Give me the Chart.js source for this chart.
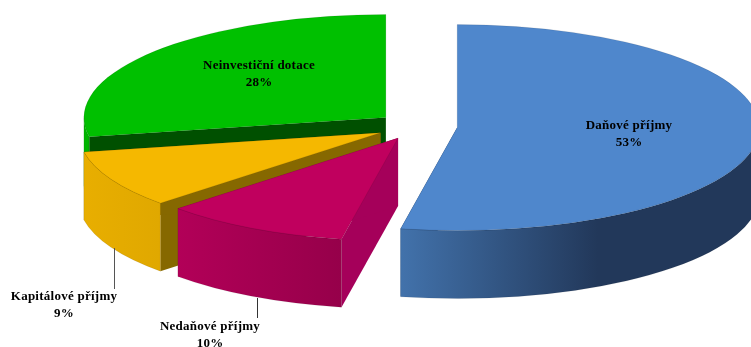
<!DOCTYPE html>
<html lang="cs">
<head>
<meta charset="utf-8">
<title>Struktura příjmů</title>
<style>
  html, body { margin: 0; padding: 0; background: #fff; }
  #wrap { width: 751px; height: 347px; }
  canvas { display: block; }
</style>
<script src="https://cdn.jsdelivr.net/npm/chart.js@4/dist/chart.umd.js"></script>
</head>
<body>
<div id="wrap"><canvas id="chart" width="751" height="347"></canvas></div>
<script>
// Revenue shares, in percent
const categories = ['Daňové příjmy', 'Nedaňové příjmy', 'Kapitálové příjmy', 'Neinvestiční dotace'];
const shares = [53, 10, 9, 28];
const explode = [73, 71, 74, 73];

// Slice colours: top face, inner cut face, outer rim gradient (left to right)
const topColors = ['#4f87cc', '#c0005e', '#f5b800', '#00c000'];
const cutColors = ['#2f5586', '#a5005a', '#866800', '#005000'];
const rimLeft = ['#4272ab', '#b20058', '#e8ae00', '#00b400'];
const rimMid = ['#22385a', '#96004a', '#e0a800', '#00b400'];

// Projection of the flat pie onto a tilted disc
const tilt = { rx: 302, ry: 103, depth: 68, cx: 417, cy: 126.3 };

// Captions and their leader lines
const captions = [
  { lines: ['Daňové příjmy', '53%'], x: 629, y: 126 },
  { lines: ['Nedaňové příjmy', '10%'], x: 210, y: 327 },
  { lines: ['Kapitálové příjmy', '9%'], x: 64, y: 297 },
  { lines: ['Neinvestiční dotace', '28%'], x: 259, y: 66 }
];
const leaders = [
  { x: 114.5, y0: 248, y1: 289, color: '#555' },
  { x: 257.5, y0: 298, y1: 318, color: '#333' }
];

const tiltedPie = {
  id: 'tiltedPie',
  // The slices are painted here in 3D, back to front, from the arc geometry the chart computed
  beforeDatasetDraw(chart, args) {
    const ctx = chart.ctx;
    const arcs = args.meta.data;
    const order = [3, 2, 1, 0];
    for (const i of order) {
      const arc = arcs[i];
      const p = arc.getProps(['startAngle', 'endAngle', 'outerRadius']);
      const sx = tilt.rx / p.outerRadius;
      const sy = tilt.ry / p.outerRadius;
      const mid = (p.startAngle + p.endAngle) / 2;
      const shift = (arc.options.offset || 0) / 4;
      const ax = tilt.cx + Math.cos(mid) * shift * sx;
      const ay = tilt.cy + Math.sin(mid) * shift * sy;
      const edge = a => [ax + Math.cos(a) * tilt.rx, ay + Math.sin(a) * tilt.ry];
      const d = tilt.depth;
      ctx.save();
      ctx.lineJoin = 'round';

      // Cut faces running from the apex to the rim
      for (const a of [p.startAngle, p.endAngle]) {
        const [ex, ey] = edge(a);
        ctx.beginPath();
        ctx.moveTo(ax, ay);
        ctx.lineTo(ex, ey);
        ctx.lineTo(ex, ey + d);
        ctx.lineTo(ax, ay + d);
        ctx.closePath();
        ctx.fillStyle = cutColors[i];
        ctx.fill();
      }

      // Outer rim, only the part of the disc edge that faces the viewer
      const a0 = Math.max(p.startAngle, 0);
      const a1 = Math.min(p.endAngle, Math.PI);
      if (a1 > a0) {
        const xs = [];
        for (let t = 0; t <= 40; t++) xs.push(edge(a0 + (a1 - a0) * t / 40)[0]);
        const minX = Math.min(...xs), maxX = Math.max(...xs);
        const g = ctx.createLinearGradient(minX, 0, maxX, 0);
        g.addColorStop(0, rimLeft[i]);
        g.addColorStop(i === 0 ? 0.55 : 1, rimMid[i]);
        if (i === 0) g.addColorStop(1, rimMid[i]);
        ctx.beginPath();
        ctx.ellipse(ax, ay, tilt.rx, tilt.ry, 0, a0, a1);
        ctx.ellipse(ax, ay + d, tilt.rx, tilt.ry, 0, a1, a0, true);
        ctx.closePath();
        ctx.fillStyle = g;
        ctx.fill();
        ctx.strokeStyle = 'rgba(0,0,0,0.15)';
        ctx.lineWidth = 0.5;
        ctx.stroke();
      }

      // Top face
      ctx.beginPath();
      ctx.moveTo(ax, ay);
      ctx.ellipse(ax, ay, tilt.rx, tilt.ry, 0, p.startAngle, p.endAngle);
      ctx.closePath();
      ctx.fillStyle = arc.options.backgroundColor;
      ctx.fill();
      ctx.strokeStyle = 'rgba(0,0,0,0.18)';
      ctx.lineWidth = 0.5;
      ctx.stroke();
      ctx.restore();
    }
    return false;
  },
  afterDraw(chart) {
    const ctx = chart.ctx;
    ctx.save();
    for (const l of leaders) {
      ctx.beginPath();
      ctx.moveTo(l.x, l.y0);
      ctx.lineTo(l.x, l.y1);
      ctx.strokeStyle = l.color;
      ctx.lineWidth = 1;
      ctx.stroke();
    }
    ctx.fillStyle = '#000';
    ctx.font = 'bold 13px "Liberation Serif"';
    ctx.letterSpacing = '0.25px';
    ctx.textAlign = 'center';
    ctx.textBaseline = 'middle';
    for (const c of captions) {
      c.lines.forEach((t, k) => ctx.fillText(t, c.x, c.y + k * 16.5));
    }
    ctx.restore();
  }
};

new Chart(document.getElementById('chart'), {
  type: 'pie',
  data: {
    labels: categories,
    datasets: [{
      data: shares,
      offset: explode,
      backgroundColor: topColors,
      borderWidth: 0
    }]
  },
  options: {
    responsive: false,
    animation: false,
    layout: { padding: 0 },
    plugins: { legend: { display: false }, tooltip: { enabled: false } }
  },
  plugins: [tiltedPie]
});
</script>
</body>
</html>
